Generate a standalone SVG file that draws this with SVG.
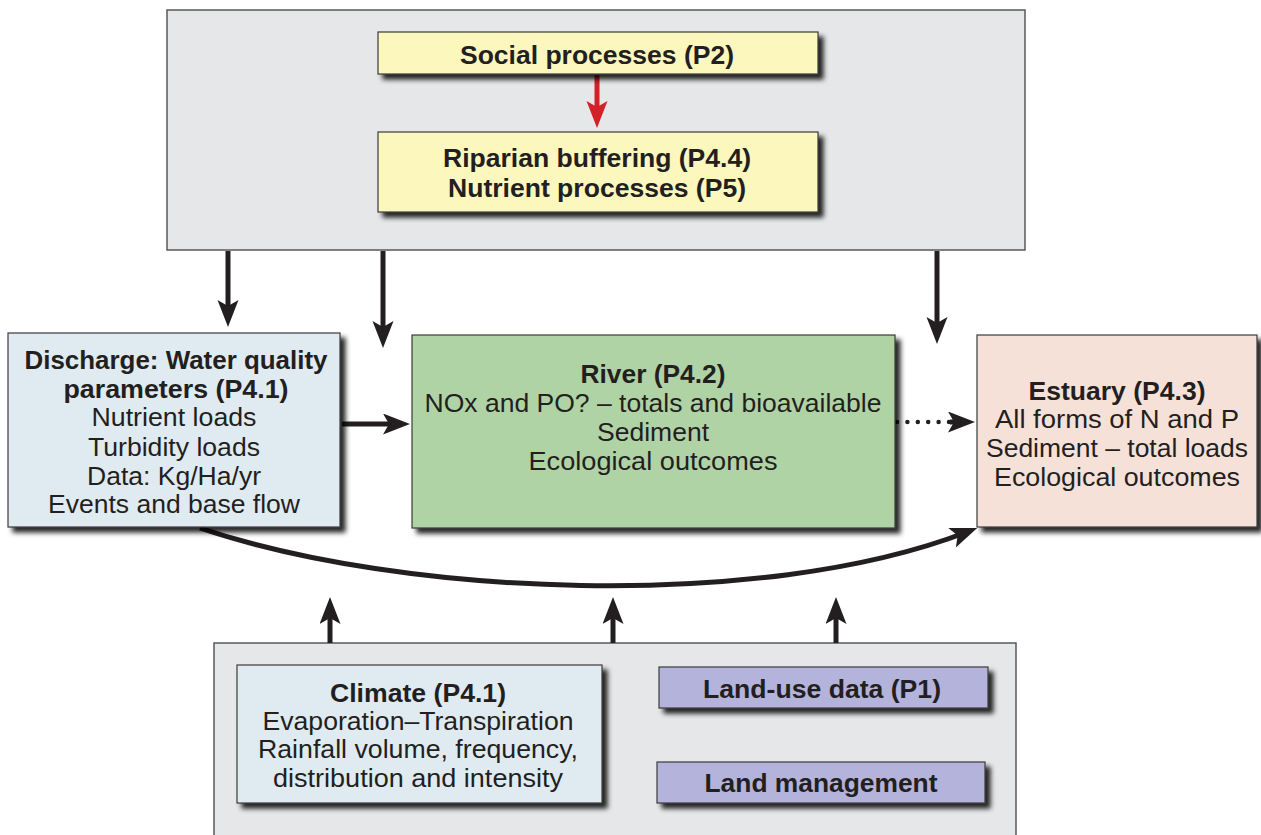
<svg xmlns="http://www.w3.org/2000/svg" width="1261" height="835" viewBox="0 0 1261 835">
<style>
.panel{fill:#e6e7e8;stroke:#58595b;stroke-width:1.5}
.box{stroke:#3a3a3a;stroke-width:1.2;filter:url(#sh)}
.yellow{fill:#fcf7bd}
.blue{fill:#e0ebf1}
.green{fill:#b0d3a6}
.pink{fill:#f6e1d9}
.purple{fill:#b4b3db}
text{font-family:"Liberation Sans",Arial,Helvetica,sans-serif;font-size:26px;fill:#231f20;text-anchor:middle}
.b{font-weight:bold}
.conn{stroke:#231f20;stroke-width:5;fill:none;marker-end:url(#ah)}
.red{stroke:#d42027;stroke-width:5;fill:none;marker-end:url(#ahr)}
.dot{stroke:#231f20;stroke-width:4.5;fill:none;stroke-linecap:round;stroke-dasharray:0 10.4}
</style>
<defs>
<filter id="sh" x="-10%" y="-10%" width="130%" height="140%">
<feDropShadow dx="5" dy="5" stdDeviation="2.5" flood-color="#000" flood-opacity="0.85"/>
</filter>
<marker id="ah" markerUnits="userSpaceOnUse" markerWidth="30" markerHeight="24" refX="16" refY="10.5" orient="auto">
<path d="M0,0 L27,10.5 L0,21 L6,10.5 z" fill="#231f20"/>
</marker>
<marker id="ahr" markerUnits="userSpaceOnUse" markerWidth="30" markerHeight="24" refX="16" refY="10.5" orient="auto">
<path d="M0,0 L27,10.5 L0,21 L6,10.5 z" fill="#d42027"/>
</marker>
</defs>
<rect width="1261" height="835" fill="#fff"/>

<g id="top-panel"><rect class="panel" x="167" y="10" width="858" height="240"/></g>
<g id="bottom-panel"><rect class="panel" x="214" y="643" width="802" height="200"/></g>

<g id="connectors">
<line class="red" x1="597" y1="75" x2="597" y2="117"/>
<line class="conn" x1="228" y1="251" x2="228" y2="316"/>
<line class="conn" x1="383" y1="251" x2="383" y2="337"/>
<line class="conn" x1="937" y1="251" x2="937" y2="333"/>
<line class="conn" x1="342" y1="424" x2="399" y2="424"/>
<line class="dot" x1="897" y1="422" x2="950" y2="422"/>
<line class="conn" x1="950" y1="422" x2="964" y2="422"/>
<path class="conn" stroke-width="4.5" d="M200 528 C400 596 760 612 967 532"/>
<line class="conn" x1="330" y1="643" x2="330" y2="608"/>
<line class="conn" x1="613" y1="643" x2="613" y2="608"/>
<line class="conn" x1="836" y1="643" x2="836" y2="608"/>
</g>

<g id="social">
<rect class="box yellow" x="378" y="32" width="440" height="42"/>
<text class="b" x="597" y="64" textLength="274" lengthAdjust="spacingAndGlyphs">Social processes (P2)</text>
</g>

<g id="riparian">
<rect class="box yellow" x="378" y="132" width="440" height="80"/>
<text class="b" x="597" y="167" textLength="308" lengthAdjust="spacingAndGlyphs">Riparian buffering (P4.4)</text>
<text class="b" x="597" y="197" textLength="298" lengthAdjust="spacingAndGlyphs">Nutrient processes (P5)</text>
</g>

<g id="discharge">
<rect class="box blue" x="8" y="333" width="332" height="194"/>
<text class="b" x="176" y="369" textLength="303" lengthAdjust="spacingAndGlyphs">Discharge: Water quality</text>
<text class="b" x="176" y="398" textLength="225" lengthAdjust="spacingAndGlyphs">parameters (P4.1)</text>
<text x="174" y="426" textLength="165" lengthAdjust="spacingAndGlyphs">Nutrient loads</text>
<text x="174" y="456" textLength="172" lengthAdjust="spacingAndGlyphs">Turbidity loads</text>
<text x="174" y="485" textLength="174" lengthAdjust="spacingAndGlyphs">Data: Kg/Ha/yr</text>
<text x="174" y="513" textLength="252" lengthAdjust="spacingAndGlyphs">Events and base flow</text>
</g>

<g id="river">
<rect class="box green" x="412" y="335" width="483" height="193"/>
<text class="b" x="653" y="383" textLength="145" lengthAdjust="spacingAndGlyphs">River (P4.2)</text>
<text x="653" y="412" textLength="457" lengthAdjust="spacingAndGlyphs">NOx and PO? – totals and bioavailable</text>
<text x="653" y="441" textLength="112" lengthAdjust="spacingAndGlyphs">Sediment</text>
<text x="653" y="470" textLength="249" lengthAdjust="spacingAndGlyphs">Ecological outcomes</text>
</g>

<g id="estuary">
<rect class="box pink" x="977" y="335" width="280" height="192"/>
<text class="b" x="1117" y="400" textLength="177" lengthAdjust="spacingAndGlyphs">Estuary (P4.3)</text>
<text x="1117" y="428" textLength="244" lengthAdjust="spacingAndGlyphs">All forms of N and P</text>
<text x="1117" y="457" textLength="262" lengthAdjust="spacingAndGlyphs">Sediment – total loads</text>
<text x="1117" y="486" textLength="246" lengthAdjust="spacingAndGlyphs">Ecological outcomes</text>
</g>

<g id="climate">
<rect class="box blue" x="237" y="665" width="365" height="138"/>
<text class="b" x="418" y="702" textLength="176" lengthAdjust="spacingAndGlyphs">Climate (P4.1)</text>
<text x="418" y="730" textLength="311" lengthAdjust="spacingAndGlyphs">Evaporation–Transpiration</text>
<text x="418" y="758" textLength="320" lengthAdjust="spacingAndGlyphs">Rainfall volume, frequency,</text>
<text x="418" y="787" textLength="290" lengthAdjust="spacingAndGlyphs">distribution and intensity</text>
</g>

<g id="landuse">
<rect class="box purple" x="659" y="667" width="329" height="41"/>
<text class="b" x="822" y="698" textLength="238" lengthAdjust="spacingAndGlyphs">Land-use data (P1)</text>
</g>

<g id="landmgmt">
<rect class="box purple" x="657" y="762" width="328" height="41"/>
<text class="b" x="821" y="792" textLength="233" lengthAdjust="spacingAndGlyphs">Land management</text>
</g>
</svg>
